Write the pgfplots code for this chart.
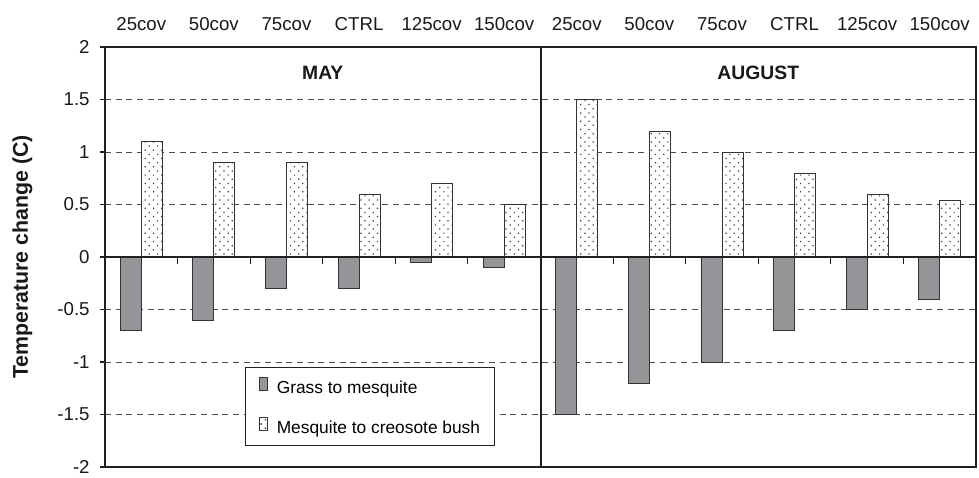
\documentclass[border=0pt]{standalone}
\usepackage{fontspec}
\setmainfont{Liberation Sans}
\usepackage{pgfplots}
\usepackage{pgfplotstable}
\pgfplotsset{compat=1.18}
\usetikzlibrary{patterns.meta}
\definecolor{barGrey}{HTML}{939598}
\definecolor{edgec}{HTML}{333333}
\definecolor{axisc}{HTML}{231F20}
\definecolor{dotc}{HTML}{3A3A3A}

\pgfplotstableread{
x grass creo
0.5 -0.7 1.1
1.5 -0.6 0.9
2.5 -0.3 0.9
3.5 -0.3 0.6
4.5 -0.05 0.7
5.5 -0.1 0.5
6.5 -1.5 1.5
7.5 -1.2 1.2
8.5 -1.0 1.0
9.5 -0.7 0.8
10.5 -0.5 0.6
11.5 -0.4 0.54
}\datatable

\tikzset{dotfill/.style={fill=white, postaction={pattern={Dots[distance=4.4pt, angle=45, radius=0.65pt]}, pattern color=dotc}}}

\begin{document}
\begin{tikzpicture}
\begin{axis}[
  scale only axis,
  width=653.25pt, height=315pt,
  xmin=0, xmax=12, ymin=-2, ymax=2,
  xtick={0.5,1.5,2.5,3.5,4.5,5.5,6.5,7.5,8.5,9.5,10.5,11.5},
  xticklabels={25cov,50cov,75cov,CTRL,125cov,150cov,25cov,50cov,75cov,CTRL,125cov,150cov},
  xticklabel pos=upper,
  xtick style={draw=none},
  ytick={-2,-1.5,-1,-0.5,0,0.5,1,1.5,2},
  yticklabels={-2,-1.5,-1,-0.5,0,0.5,1,1.5,2},
  ytick pos=left,
  tick align=outside,
  major tick length=3.75pt,
  tick style={axisc, line width=0.8pt},
  xticklabel style={font=\fontsize{14}{16.8}\selectfont, yshift=5pt, text=black!90},
  yticklabel style={font=\fontsize{14}{16.8}\selectfont, xshift=-4.25pt, text=black!90},
  axis line style={axisc, line width=1.1pt},
  ymajorgrids=true,
  grid style={dash pattern=on 4.5pt off 3.5pt, black!70, line width=0.5pt},
  legend style={at={(0.1607,0.238)}, anchor=north west, draw=axisc, line width=0.6pt,
    inner xsep=10.5pt, inner ysep=7.5pt, row sep=16pt,
    nodes={inner sep=0pt}, font=\fontsize{13}{15.6}\selectfont},
  legend cell align=left,
]
\addplot[ybar, bar width=0.289, bar shift=-0.1445, fill=barGrey, draw=edgec, line width=0.6pt,
  legend image code/.code={\draw[fill=barGrey, draw=edgec, line width=0.5pt] (0pt,-1.5pt) rectangle (5.5pt,8pt); \path (12.5pt,0pt);}]
  table[x=x, y=grass] {\datatable};
\addlegendentry{Grass to mesquite}
\addplot[ybar, bar width=0.289, bar shift=0.1445, dotfill, draw=edgec, line width=0.6pt,
  legend image code/.code={\draw[dotfill, draw=edgec, line width=0.5pt] (0pt,-1.5pt) rectangle (5.5pt,8pt); \path (12.5pt,0pt);}]
  table[x=x, y=creo] {\datatable};
\addlegendentry{Mesquite to creosote bush}
\draw[axisc, line width=1pt] (axis cs:0,0) -- (axis cs:12,0);
\pgfplotsinvokeforeach{1,2,3,4,5,7,8,9,10,11}{\draw[axisc, line width=0.8pt] (axis cs:#1,0) -- ++(0pt,-5pt);}
\draw[axisc, line width=1.5pt] (axis cs:6,-2) -- (axis cs:6,2);
\draw[axisc, line width=1.5pt] (axis cs:0,-2) -- (axis cs:0,2);
\node[font=\bfseries\fontsize{14.5}{17}\selectfont, text=black!90] at (axis cs:3,1.75) {MAY};
\node[font=\bfseries\fontsize{14.5}{17}\selectfont, text=black!90] at (axis cs:9,1.75) {AUGUST};
\end{axis}
\node[rotate=90, font=\bfseries\fontsize{16}{19}\selectfont, text=black!90] at ([xshift=-62pt]current axis.west) {Temperature change (C)};
\path ([xshift=-78.75pt,yshift=-6pt]current axis.south west) ([xshift=2.25pt,yshift=35.25pt]current axis.north east);
\end{tikzpicture}
\end{document}
